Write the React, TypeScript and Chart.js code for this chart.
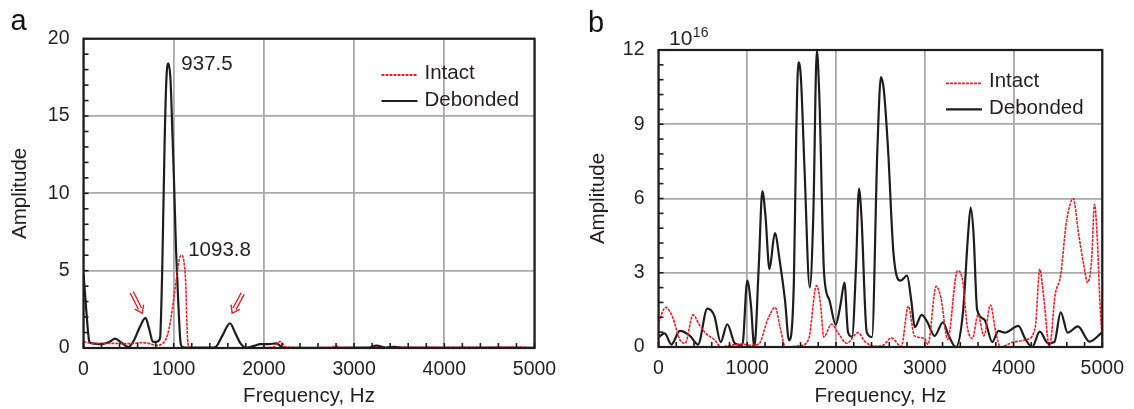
import React, { useEffect, useRef } from 'react';
import { Chart, registerables } from 'chart.js';

Chart.register(...registerables);

// ---------- data (frequency Hz, amplitude) ----------
const FREQ_MIN = 0;
const FREQ_MAX = 5000;
const FREQ_STEP = 1000;

// Panel a
const aIntact: [number, number][] = [
  [0, 0.4], [100, 0.3], [300, 0.3], [500, 0.28], [650, 0.35], [720, 0.3], [811, 0.17],
  [880, 0.3], [929, 0.8], [966, 1.8], [1003, 3.3], [1040, 4.9], [1070, 5.9], [1094, 6.0],
  [1115, 5.5], [1133, 4.2], [1150, 1.0], [1165, 0.1], [1200, 0.02], [1500, 0.02],
  [1900, 0.02], [2100, 0.05], [2180, 0.42], [2250, 0.05], [2500, 0.02], [2750, 0.03],
  [2800, 0.15], [2850, 0.03], [3200, 0.02], [3250, 0.05], [3300, 0.02], [4200, 0.05],
  [4500, 0.03], [4800, 0.06], [5000, 0.02],
];
const aDebonded: [number, number][] = [
  [0, 4.8], [30, 2.5], [65, 0.42], [100, 0.3], [200, 0.25], [290, 0.4], [350, 0.6],
  [420, 0.35], [497, 0.06], [560, 0.5], [620, 1.3], [688, 1.95], [725, 1.3], [770, 0.4],
  [810, 0.4], [848, 0.6], [874, 5.4], [900, 13.5], [920, 17.5], [940, 18.4], [965, 17.3],
  [985, 14], [1003, 10.9], [1025, 6.5], [1048, 3.3], [1077, 0.3], [1096, 0.07],
  [1150, 0.02], [1300, 0.02], [1458, 0.05], [1540, 0.8], [1624, 1.6], [1680, 1.0],
  [1740, 0.3], [1809, 0.02], [1900, 0.15], [1957, 0.25], [2050, 0.25], [2142, 0.3],
  [2200, 0.05], [2300, 0.01], [2700, 0.01], [3150, 0.02], [3250, 0.15], [3350, 0.03],
  [3450, 0.08], [3550, 0.02], [4000, 0.01], [4500, 0.02], [5000, 0.01],
];
const aAmpMax = 20;
const aAmpStep = 5;
const aAmpMinor = 1;
// peak labels: [x, y(baseline), text]
const aPeakLabels: [number, number, string][] = [
  [1085, 17.98, '937.5'],
  [1161, 5.97, '1093.8'],
];
// arrows: [tailX, tailY, tipX, tipY]
const aArrows: [number, number, number, number][] = [
  [535, 3.6, 652, 2.25],
  [1765, 3.52, 1648, 2.25],
];

// Panel b (amplitude ×10^16)
const bIntact: [number, number][] = [
  [0, 1.0], [80, 1.6], [160, 1.2], [240, 0.3], [300, 0.15], [389, 1.3], [460, 0.9],
  [540, 0.53], [630, 0.3], [705, 0], [820, 0.07], [940, 0.12], [1040, 0.07], [1130, 0.12],
  [1230, 1.1], [1315, 1.6], [1370, 0.8], [1430, 0], [1590, 0.05], [1690, 0.3], [1780, 2.48],
  [1825, 1.75], [1862, 0.4], [1950, 0.92], [2028, 0.55], [2120, 0.15], [2250, 0.58],
  [2326, 0.22], [2440, 0.03], [2530, 0.07], [2624, 0.37], [2735, 0.02], [2815, 1.65],
  [2884, 0.45], [2996, 0.35], [3035, 0.1], [3128, 2.45], [3182, 2.0], [3257, 0.3],
  [3369, 3.08], [3425, 2.7], [3480, 0.8], [3537, 0.35], [3600, 1.3], [3667, 0.45],
  [3740, 1.7], [3797, 0.65], [3853, 0], [4000, 0.2], [4150, 0.3], [4245, 0.8],
  [4295, 3.15], [4340, 2.0], [4405, 0], [4468, 2.1], [4531, 2.9], [4590, 4.9],
  [4640, 5.8], [4672, 6.0], [4732, 4.6], [4792, 3.3], [4835, 2.6], [4880, 3.55],
  [4912, 5.77], [4940, 4.6], [4980, 1.3], [5000, 0.3],
];
const bDebonded: [number, number][] = [
  [0, 0.4], [70, 0.55], [145, 0.1], [240, 0.65], [355, 0.45], [445, 0.1], [550, 1.55],
  [630, 1.25], [700, 0.2], [775, 0.92], [860, 0.15], [945, 0.08], [1000, 2.68],
  [1040, 1.75], [1080, 0], [1130, 3.3], [1170, 6.3], [1205, 5.3], [1250, 3.15],
  [1311, 4.6], [1365, 3.5], [1425, 1.9], [1470, 0.27], [1525, 2.6], [1552, 8.6],
  [1576, 11.5], [1604, 10.9], [1644, 7.3], [1704, 2.4], [1744, 5.3], [1784, 12.0],
  [1813, 10.0], [1865, 3.0], [1925, 1.9], [1997, 0.9], [2050, 1.7], [2095, 2.6],
  [2135, 0.6], [2180, 0.42], [2226, 3.3], [2258, 6.4], [2286, 5.3], [2346, 0.6],
  [2405, 0.4], [2466, 8.0], [2506, 10.9], [2538, 10.4], [2586, 8.0], [2647, 3.8],
  [2727, 2.68], [2800, 2.88], [2847, 1.9], [2887, 0.8], [2965, 1.3], [3030, 1.0],
  [3110, 0.45], [3205, 1.0], [3268, 0.47], [3350, 0], [3430, 1.4], [3489, 4.6],
  [3517, 5.63], [3549, 4.6], [3590, 1.5], [3670, 1.12], [3760, 0.2], [3830, 0.65],
  [3900, 0.58], [4055, 0.85], [4130, 0.34], [4210, 0], [4295, 0.62], [4390, 0.15],
  [4460, 0.2], [4531, 1.4], [4610, 0.58], [4725, 0.83], [4855, 0.22], [5000, 0.6],
];
const bAmpMax = 12;
const bAmpStep = 3;
const bAmpMinor = 0.6;

const SERIES_NAMES = ['Intact', 'Debonded'];

// ---------- styles ----------
const FONT = "'Liberation Sans', Arial, Helvetica, sans-serif";
const RED = '#e3202b';
const BLACK = '#1e1c1d';
const GRID = '#a9a9a9';
const TEXT = '#231f20';

type PanelOpts = {
  letter: string;
  intact: [number, number][];
  debonded: [number, number][];
  ampMax: number;
  ampStep: number;
  ampMinor: number;
  yAxisWidth: number;
  xAxisHeight: number;
  padTop: number;
  padRight: number;
  titlePad: number;
  legendX: number;
  legendY: number;
  letterX: number;
  letterY: number;
  exponent?: string;
  peakLabels?: [number, number, string][];
  arrows?: [number, number, number, number][];
};

function makeDecor(p: PanelOpts) {
  return {
    id: 'decor',
    afterDatasetsDraw(chart: any) {
      const { ctx, chartArea: ca, scales } = chart;
      const x = scales.x;
      const y = scales.y;
      ctx.save();
      // minor ticks (inward)
      ctx.strokeStyle = BLACK;
      ctx.lineWidth = 1.6;
      const nY = Math.round(p.ampMax / p.ampMinor);
      for (let i = 0; i <= nY; i++) {
        const py = y.getPixelForValue(i * p.ampMinor);
        ctx.beginPath();
        ctx.moveTo(ca.left, py);
        ctx.lineTo(ca.left + 5, py);
        ctx.stroke();
      }
      for (let f = FREQ_MIN; f <= FREQ_MAX; f += 200) {
        const px = x.getPixelForValue(f);
        ctx.beginPath();
        ctx.moveTo(px, ca.bottom);
        ctx.lineTo(px, ca.bottom - 5);
        ctx.stroke();
      }
      // frame
      ctx.lineWidth = 2.2;
      ctx.strokeRect(ca.left, ca.top, ca.right - ca.left, ca.bottom - ca.top);

      // legend
      const lx = ca.left + p.legendX;
      const ly = ca.top + p.legendY;
      ctx.lineWidth = 1.8;
      ctx.strokeStyle = RED;
      ctx.setLineDash([3, 1]);
      ctx.beginPath();
      ctx.moveTo(lx, ly);
      ctx.lineTo(lx + 36, ly);
      ctx.stroke();
      ctx.setLineDash([]);
      ctx.strokeStyle = BLACK;
      ctx.lineWidth = 2.2;
      ctx.beginPath();
      ctx.moveTo(lx, ly + 26);
      ctx.lineTo(lx + 36, ly + 26);
      ctx.stroke();
      ctx.fillStyle = TEXT;
      ctx.font = `20.5px ${FONT}`;
      ctx.textBaseline = 'alphabetic';
      ctx.textAlign = 'left';
      ctx.fillText(SERIES_NAMES[0], lx + 43, ly + 3.5);
      ctx.fillText(SERIES_NAMES[1], lx + 43, ly + 31);

      // peak labels
      (p.peakLabels || []).forEach(([fx, fy, t]) => {
        ctx.fillText(t, x.getPixelForValue(fx), y.getPixelForValue(fy));
      });

      // arrows
      ctx.strokeStyle = RED;
      ctx.lineWidth = 1.4;
      (p.arrows || []).forEach(([tx, ty, hx, hy]) => {
        const x0 = x.getPixelForValue(tx);
        const y0 = y.getPixelForValue(ty);
        const x1 = x.getPixelForValue(hx);
        const y1 = y.getPixelForValue(hy);
        const len = Math.hypot(x1 - x0, y1 - y0);
        const dx = (x1 - x0) / len;
        const dy = (y1 - y0) / len;
        const nx = -dy;
        const ny = dx;
        for (const s of [-1.7, 1.7]) {
          ctx.beginPath();
          ctx.moveTo(x0 + nx * s, y0 + ny * s);
          ctx.lineTo(x1 - dx * 5 + nx * s, y1 - dy * 5 + ny * s);
          ctx.stroke();
        }
        ctx.beginPath();
        ctx.moveTo(x1 - dx * 7 + nx * 5, y1 - dy * 7 + ny * 5);
        ctx.lineTo(x1, y1);
        ctx.lineTo(x1 - dx * 7 - nx * 5, y1 - dy * 7 - ny * 5);
        ctx.stroke();
      });

      // panel letter
      ctx.fillStyle = '#111';
      ctx.font = `29px ${FONT}`;
      ctx.fillText(p.letter, p.letterX, p.letterY);

      // exponent
      if (p.exponent) {
        ctx.fillStyle = TEXT;
        ctx.font = `21px ${FONT}`;
        const bx = ca.left + 10.5;
        const by = ca.top - 5;
        ctx.fillText('10', bx, by);
        const w = ctx.measureText('10').width;
        ctx.font = `14px ${FONT}`;
        ctx.fillText(p.exponent, bx + w + 0.5, by - 8);
      }
      ctx.restore();
    },
  };
}

function buildConfig(p: PanelOpts): any {
  const toPts = (arr: [number, number][]) => arr.map(([fx, a]) => ({ x: fx, y: a }));
  const plain = (v: any) => String(v);
  return {
    type: 'line',
    data: {
      datasets: [
        {
          label: SERIES_NAMES[0],
          data: toPts(p.intact),
          borderColor: RED,
          borderWidth: 1.6,
          borderDash: [3, 1],
          pointRadius: 0,
          cubicInterpolationMode: 'monotone',
          fill: false,
        },
        {
          label: SERIES_NAMES[1],
          data: toPts(p.debonded),
          borderColor: BLACK,
          borderWidth: 2.2,
          pointRadius: 0,
          cubicInterpolationMode: 'monotone',
          fill: false,
        },
      ],
    },
    options: {
      animation: false,
      responsive: false,
      devicePixelRatio: 1,
      layout: { padding: { top: p.padTop, right: p.padRight, left: 0, bottom: 0 } },
      plugins: { legend: { display: false }, tooltip: { enabled: false } },
      scales: {
        x: {
          type: 'linear',
          min: FREQ_MIN,
          max: FREQ_MAX,
          border: { display: false },
          grid: { color: GRID, lineWidth: 1.8, drawTicks: false },
          ticks: {
            stepSize: FREQ_STEP,
            autoSkip: false,
            maxRotation: 0,
            padding: 10,
            color: TEXT,
            font: { family: FONT, size: 19.5 },
            callback: plain,
          },
          title: {
            display: true,
            text: 'Frequency, Hz',
            color: TEXT,
            font: { family: FONT, size: 20.5 },
            padding: { top: 0, bottom: 0 },
          },
          afterFit(s: any) {
            s.height = p.xAxisHeight;
          },
        },
        y: {
          type: 'linear',
          min: 0,
          max: p.ampMax,
          border: { display: false },
          grid: { color: GRID, lineWidth: 1.8, drawTicks: false },
          ticks: {
            stepSize: p.ampStep,
            autoSkip: false,
            padding: 14,
            color: TEXT,
            font: { family: FONT, size: 19.5 },
            callback: plain,
          },
          title: {
            display: true,
            text: 'Amplitude',
            color: TEXT,
            font: { family: FONT, size: 20.5 },
            padding: { top: p.titlePad, bottom: 0 },
          },
          afterFit(s: any) {
            s.width = p.yAxisWidth;
          },
        },
      },
    },
    plugins: [makeDecor(p)],
  };
}

const panelA: PanelOpts = {
  letter: 'a',
  intact: aIntact,
  debonded: aDebonded,
  ampMax: aAmpMax,
  ampStep: aAmpStep,
  ampMinor: aAmpMinor,
  yAxisWidth: 83.5,
  xAxisHeight: 61,
  padTop: 38.7,
  padRight: 32.5,
  titlePad: 8.2,
  legendX: 298,
  legendY: 36.3,
  letterX: 10.5,
  letterY: 30,
  peakLabels: aPeakLabels,
  arrows: aArrows,
};

const panelB: PanelOpts = {
  letter: 'b',
  intact: bIntact,
  debonded: bDebonded,
  ampMax: bAmpMax,
  ampStep: bAmpStep,
  ampMinor: bAmpMinor,
  yAxisWidth: 91.5,
  xAxisHeight: 62,
  padTop: 50,
  padRight: 28,
  titlePad: 18.7,
  legendX: 287.5,
  legendY: 33.3,
  letterX: 21,
  letterY: 31.5,
  exponent: '16',
};

function Panel({ opts, left }: { opts: PanelOpts; left: number }) {
  const ref = useRef<HTMLCanvasElement | null>(null);
  useEffect(() => {
    if (!ref.current) return;
    const chart = new Chart(ref.current, buildConfig(opts));
    return () => chart.destroy();
  }, [opts]);
  return (
    <canvas
      ref={ref}
      width={567}
      height={409}
      style={{ position: 'absolute', left, top: 0, width: 567, height: 409 }}
    />
  );
}

export default function App() {
  return (
    <div
      style={{
        position: 'absolute',
        left: 0,
        top: 0,
        width: 1134,
        height: 409,
        background: '#ffffff',
        overflow: 'hidden',
      }}
    >
      <Panel opts={panelA} left={0} />
      <Panel opts={panelB} left={567} />
    </div>
  );
}
